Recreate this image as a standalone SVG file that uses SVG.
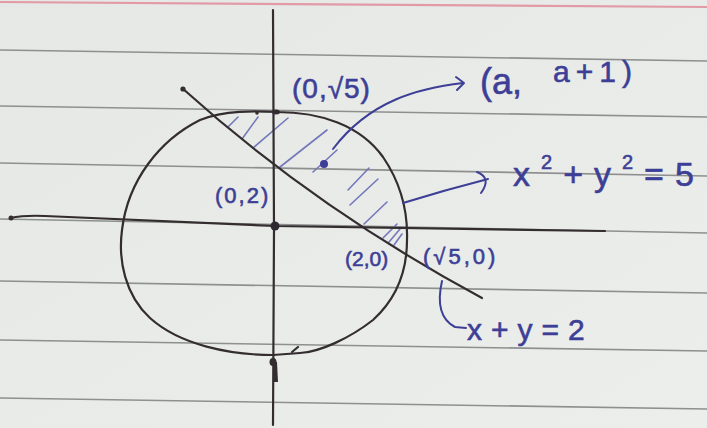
<svg xmlns="http://www.w3.org/2000/svg" width="707" height="428" viewBox="0 0 707 428">
<style>
.rule{stroke:#8d908f;stroke-width:1.6;fill:none}
.pen{stroke:#332d30;stroke-width:2.2;fill:none;stroke-linecap:round;stroke-linejoin:round}
.ink{stroke:#3d3f96;stroke-width:2;fill:none;stroke-linecap:round;stroke-linejoin:round}
.hatch{stroke:#7478bb;stroke-width:1.6;fill:none;stroke-linecap:round}
.t{font-family:"Liberation Sans","DejaVu Sans",sans-serif;fill:#3d3f96;stroke:#3d3f96;stroke-width:0.6}
</style>
<defs>
<linearGradient id="paperg" x1="0" y1="0" x2="1" y2="1">
<stop offset="0" stop-color="#e6e8e5"/>
<stop offset="1" stop-color="#eceeeb"/>
</linearGradient>
</defs>
<g id="paper">
<rect width="707" height="428" fill="url(#paperg)"/>
<line x1="0" y1="2" x2="707" y2="7" stroke="#e19aa6" stroke-width="2.2"/>
<line class="rule" x1="0" y1="50" x2="707" y2="61"/>
<line class="rule" x1="0" y1="106" x2="707" y2="117"/>
<line class="rule" x1="0" y1="163" x2="707" y2="176"/>
<line class="rule" x1="0" y1="219" x2="707" y2="233"/>
<line class="rule" x1="0" y1="281" x2="707" y2="293"/>
<line class="rule" x1="0" y1="340" x2="707" y2="351"/>
<line class="rule" x1="0" y1="398" x2="707" y2="409"/>
</g>
<g id="hatching">
<line class="hatch" x1="228" y1="127" x2="238" y2="117"/>
<line class="hatch" x1="242" y1="139" x2="258" y2="117"/>
<line class="hatch" x1="253" y1="148" x2="288" y2="118"/>
<line class="hatch" x1="280" y1="167" x2="327" y2="130"/>
<line class="hatch" x1="313" y1="172" x2="337" y2="150"/>
<line class="hatch" x1="348" y1="190" x2="369" y2="168"/>
<line class="hatch" x1="350" y1="205" x2="378" y2="179"/>
<line class="hatch" x1="364" y1="224" x2="387" y2="202"/>
<line class="hatch" x1="383" y1="238" x2="397" y2="224"/>
<line class="hatch" x1="389" y1="242" x2="400" y2="229"/>
<line class="hatch" x1="394" y1="245" x2="402" y2="234"/>
</g>
<g id="axes">
<path class="pen" d="M273 10 L274 230 L273 425"/>
<path class="pen" d="M10 218 Q 25 215 45 216 L275 226 L605 231"/>
<circle cx="11" cy="218" r="2.5" fill="#332d30"/>
</g>
<g id="circle">
<path class="pen" d="M277 112 C320 112 360 125 383 157 C400 182 408 210 407 240 C407 275 395 300 373 320 C350 338 320 352 300 353 L273 355 C230 355 180 345 150 318 C125 295 118 260 122 230 C128 180 160 140 200 120 C225 110 255 111 277 112 Z"/>
<path class="pen" d="M292 352 L298 347" stroke-width="2"/>
</g>
<g id="line">
<path class="pen" d="M182 88 Q315 208 482 298"/>
<circle cx="183" cy="89" r="2.6" fill="#332d30"/>
</g>
<g id="points">
<circle cx="275" cy="226" r="4.5" fill="#2e2830"/>
<ellipse cx="276" cy="112" rx="4" ry="2.5" fill="#332d30"/>
<circle cx="257" cy="113" r="1.8" fill="#332d30"/>
<ellipse cx="273" cy="362" rx="3.5" ry="4" fill="#332d30"/>
<line x1="275" y1="362" x2="276" y2="382" stroke="#332d30" stroke-width="4"/>
<circle cx="324" cy="164" r="4" fill="#3d3f96"/>
</g>
<g id="connectors">
<path class="ink" d="M333 149 C370 100 420 88 463 83"/>
<path class="ink" d="M456 77 L464 83 L457 90"/>
<path class="ink" d="M403 203 Q445 190 488 179"/>
<path class="ink" d="M477 172 Q492 178 481 193"/>
</g>
<g id="label-0-sqrt5"><text class="t" x="292" y="98" font-size="28" letter-spacing="1">(0,√5)</text></g>
<g id="label-a-a1"><text class="t" x="480" y="94" font-size="36">(a, <tspan x="553" y="82" font-size="30" letter-spacing="6">a+1)</tspan></text></g>
<g id="label-circle-eq"><text class="t" x="513" y="186" font-size="34" letter-spacing="11">x<tspan dy="-17" font-size="20">2</tspan><tspan dy="17">+y</tspan><tspan dy="-17" font-size="20">2</tspan><tspan dy="17">=5</tspan></text></g>
<g id="label-0-2"><text class="t" x="215" y="203" font-size="22" letter-spacing="2">(0,2)</text></g>
<g id="label-2-0"><text class="t" x="345" y="266" font-size="21">(2,0)</text></g>
<g id="label-sqrt5-0"><text class="t" x="423" y="264" font-size="22" letter-spacing="3">(√5,0)</text></g>
<g id="label-line-eq">
<path class="ink" d="M442 281 Q434 316 455 327 L466 328" stroke-width="2.5"/>
<text class="t" x="467" y="340" font-size="30" letter-spacing="9">x+y=2</text>
</g>
</svg>
